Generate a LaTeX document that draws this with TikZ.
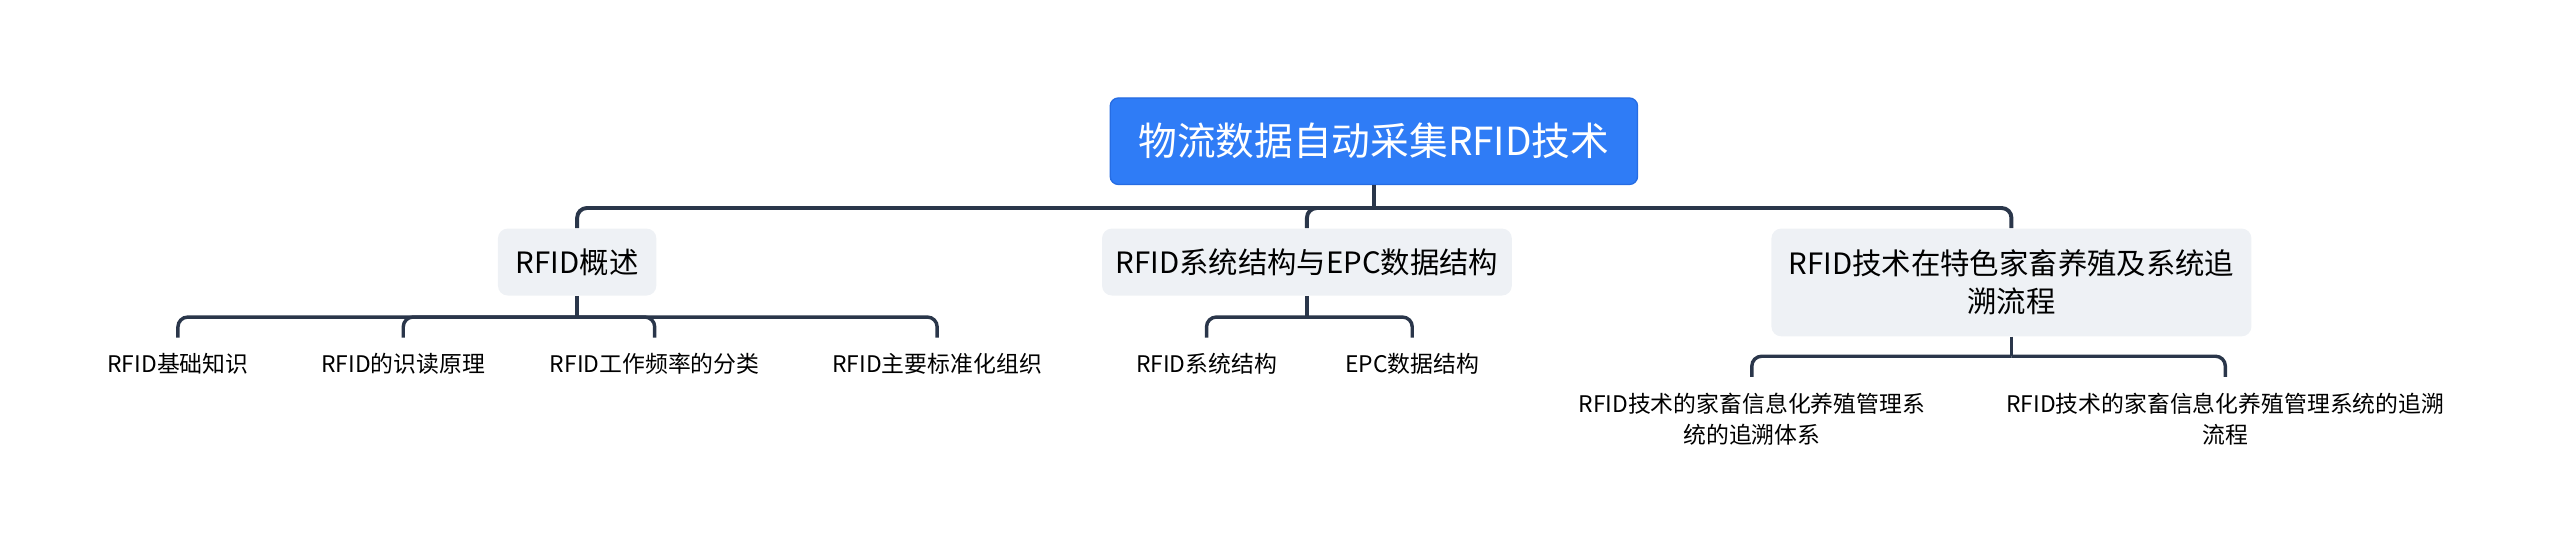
\documentclass[tikz,border=0pt]{standalone}
\usepackage{fontspec}
\setmainfont{Noto Sans CJK SC}
\definecolor{rootblue}{RGB}{47,124,246}
\definecolor{rootedge}{RGB}{38,108,226}
\definecolor{subgrey}{RGB}{238,241,245}
\definecolor{linec}{RGB}{42,54,74}
\begin{document}
\begin{tikzpicture}[x=1pt,y=-1pt,
  rootbox/.style={draw=rootedge,line width=0.8pt,fill=rootblue,rounded corners=5pt,text=white,
    font=\fontsize{23.7}{28}\selectfont,minimum width=323pt,minimum height=53pt,inner sep=0pt},
  mainbox/.style={fill=subgrey,rounded corners=6pt,text=black,
    font=\fontsize{18}{23}\selectfont,minimum height=41pt,inner sep=0pt,align=center},
  leaf/.style={text=black,font=\fontsize{14}{19}\selectfont,minimum height=32pt,inner sep=0pt,align=center},
  conn/.style={draw=linec,line width=2.4pt,rounded corners=6pt},
  subconn/.style={draw=linec,line width=2.1pt,rounded corners=6pt}]
\useasboundingbox (0,0) rectangle (1568,340);
% root
\node[rootbox] (root) at (841.5,86.5) {物流数据自动采集RFID技术};
% level 1
\node[mainbox,minimum width=97pt] (a) at (353.5,160.5) {RFID概述};
\node[mainbox,minimum width=251pt] (b) at (800.5,160.5) {RFID系统结构与EPC数据结构};
\node[mainbox,minimum width=294pt,minimum height=66pt] (c) at (1232,173) {RFID技术在特色家畜养殖及系统追\\溯流程};
% level 2
\node[leaf] (a1) at (109,223) {RFID基础知识};
\node[leaf] (a2) at (247,223) {RFID的识读原理};
\node[leaf] (a3) at (401,223) {RFID工作频率的分类};
\node[leaf] (a4) at (574,223) {RFID主要标准化组织};
\node[leaf] (b1) at (739,223) {RFID系统结构};
\node[leaf] (b2) at (865,223) {EPC数据结构};
\node[leaf,minimum height=51pt] (c1) at (1073,256.5) {RFID技术的家畜信息化养殖管理系\\统的追溯体系};
\node[leaf,minimum height=51pt] (c2) at (1363,256.5) {RFID技术的家畜信息化养殖管理系统的追溯\\流程};
% junctions
\coordinate (jr) at ([yshift=-14pt]root.south);
\coordinate (ja) at ([yshift=-13pt]a.south);
\coordinate (jb) at ([yshift=-13pt]b.south);
\coordinate (jc) at ([yshift=-12pt]c.south);
% connectors
\draw[conn] (root.south) -- (jr);
\draw[conn] (jr) -| (a.north);
\draw[conn] (jr) -| (b.north);
\draw[conn] (jr) -| (c.north);
\draw[subconn] (a.south) -- (ja);
\draw[subconn] (ja) -| (a1.north);
\draw[subconn] (ja) -| (a2.north);
\draw[subconn] (ja) -| (a3.north);
\draw[subconn] (ja) -| (a4.north);
\draw[subconn] (b.south) -- (jb);
\draw[subconn] (jb) -| (b1.north);
\draw[subconn] (jb) -| (b2.north);
\draw[subconn] (c.south) -- (jc);
\draw[subconn] (jc) -| (c1.north);
\draw[subconn] (jc) -| (c2.north);
\end{tikzpicture}
\end{document}
